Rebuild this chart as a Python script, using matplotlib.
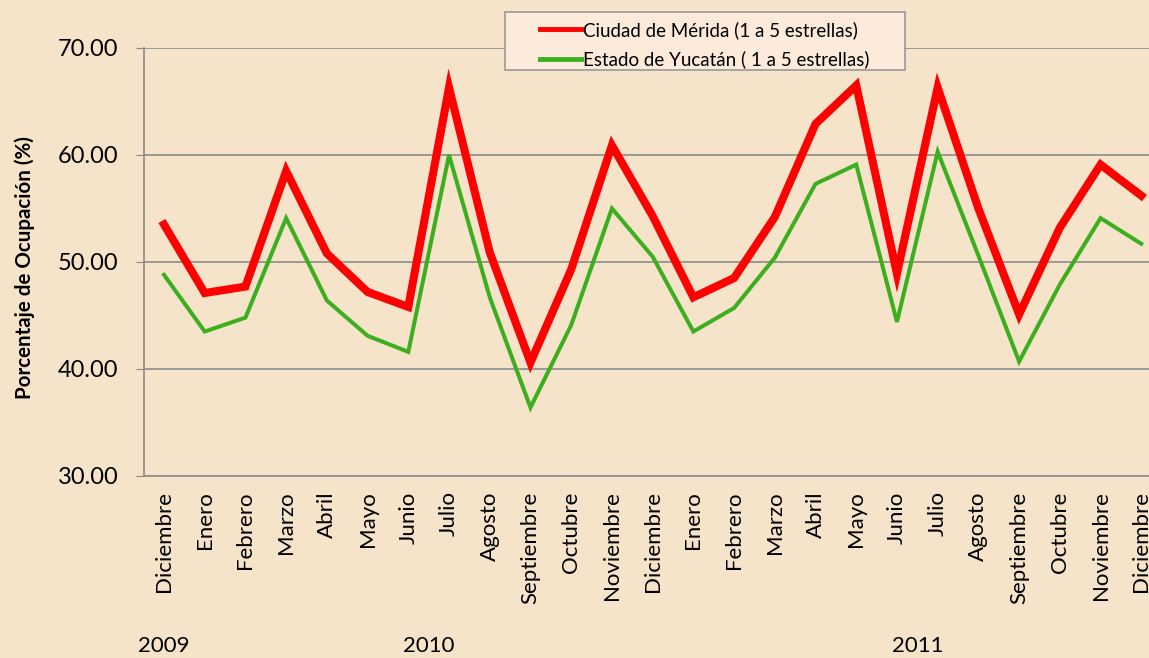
import numpy as np
import matplotlib
matplotlib.use("Agg")
import matplotlib.pyplot as plt
from matplotlib.patches import Rectangle

# meses: dic 2009, 2010 completo, 2011 completo
meses = ['Diciembre', 'Enero', 'Febrero', 'Marzo', 'Abril', 'Mayo', 'Junio',
         'Julio', 'Agosto', 'Septiembre', 'Octubre', 'Noviembre', 'Diciembre',
         'Enero', 'Febrero', 'Marzo', 'Abril', 'Mayo', 'Junio', 'Julio',
         'Agosto', 'Septiembre', 'Octubre', 'Noviembre', 'Diciembre']
anios = ['2009', '2010', '2011']
anio_pos = [0, 6.5, 18.5]

merida = [53.5, 47.1, 47.7, 58.5, 50.8, 47.2, 45.8, 66.3, 50.9, 40.6, 49.3, 60.9,
          54.3, 46.7, 48.5, 54.2, 62.9, 66.5, 48.9, 66.3, 55.0, 45.1, 53.2, 59.1, 56.2]
yucatan = [48.8, 43.5, 44.8, 54.1, 46.4, 43.1, 41.6, 60.0, 46.7, 36.4, 44.1, 55.0,
           50.5, 43.5, 45.7, 50.4, 57.3, 59.1, 44.4, 60.3, 50.6, 40.7, 47.9, 54.1, 51.7]

bg = '#F5E4CA'
plt.rcParams['font.family'] = ['Lato', 'DejaVu Sans']

fig = plt.figure(figsize=(11.49, 6.58), dpi=100, facecolor=bg)
ax = fig.add_axes([0.125, 0.2766, 0.886, 0.6505])
ax.set_facecolor(bg)

x = np.arange(len(meses))
ax.plot(x, merida, color='#FF0000', lw=5.8, solid_joinstyle='miter',
        label='Ciudad de Mérida (1 a 5 estrellas)')
ax.plot(x, yucatan, color='#3DAE1E', lw=2.9, solid_joinstyle='miter',
        label='Estado de Yucatán ( 1 a 5 estrellas)')

ax.set_xlim(-0.5, len(meses) - 0.5)
ax.set_ylim(30, 70)
ax.set_yticks([30, 40, 50, 60, 70])
ax.set_yticklabels(['%.2f' % v for v in [30, 40, 50, 60, 70]], fontsize=17)
ax.set_xticks(x)
ax.set_xticklabels(meses, rotation=90, fontsize=16)
ax.tick_params(axis='x', length=0, pad=11)
ax.tick_params(axis='y', length=6, color='#888888', pad=12)
ax.grid(axis='y', color='#8C8C8C', lw=1.2)
ax.set_axisbelow(True)
for s in ['top', 'right']:
    ax.spines[s].set_visible(False)
for s in ['left', 'bottom']:
    ax.spines[s].set_color('#8C8C8C')
    ax.spines[s].set_linewidth(1.2)

ax.set_ylabel('Porcentaje de Ocupación (%)', fontsize=14.8, fontweight='bold')
ax.yaxis.set_label_coords(-0.1066, 0.486)

for a, p in zip(anios, anio_pos):
    ax.text(p, -0.397, a, transform=ax.get_xaxis_transform(), ha='center', va='center', fontsize=16)

# recuadro de la leyenda
W, H = fig.get_size_inches() * fig.dpi
fig.patches.append(Rectangle((505 / W, 1 - 70 / H), 400 / W, 58 / H, transform=fig.transFigure,
                             facecolor='#FCEADB', edgecolor='#999999', lw=1.2, zorder=5))
leg = fig.legend(loc='upper left', bbox_to_anchor=(525 / W, 1 - 6 / H), fontsize=13.5,
                 handlelength=2.2, handletextpad=0.1, borderpad=0.3, labelspacing=0.62,
                 frameon=False)
leg.set_zorder(6)
for l in leg.get_lines():
    l.set_linewidth(3.5)

fig.savefig('out.png', dpi=100, facecolor=bg)
